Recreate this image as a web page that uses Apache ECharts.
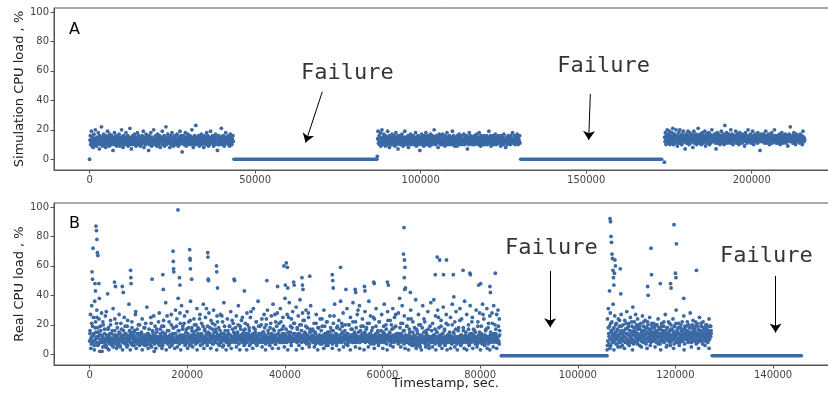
<!DOCTYPE html>
<html>
<head>
<meta charset="utf-8">
<script src="https://cdn.jsdelivr.net/npm/echarts@6/dist/echarts.min.js"></script>
<style>
  html, body { margin: 0; padding: 0; background: #fff; }
  #chart { width: 828px; height: 398px; }
</style>
</head>
<body>
<div id="chart"></div>
<script>
// ---- data ----
// panel A: simulation CPU load (%), evenly sampled over each running window
const simWindows = [[0, 43400], [86900, 130000], [173600, 216000]];
const simRun1 = [
  0, 13, 16, 10, 12, 19, 14, 9, 11, 15, 8, 13, 17, 12, 10, 14, 20, 11, 13, 9,
  15, 12, 10, 14, 18, 11, 13, 7, 16, 12, 14, 10, 13, 22, 11, 15, 9, 12, 14, 17,
  11, 13, 10, 15, 12, 8, 16, 14, 11, 13, 19, 10, 12, 15, 13, 9, 17, 11, 14, 12,
  10, 16, 13, 11, 14, 6, 12, 15, 10, 18, 13, 11, 14, 12, 16, 9, 13, 10, 15, 12,
  14, 11, 17, 13, 9, 12, 15, 10, 14, 20, 11, 13, 12, 8, 16, 14, 10, 13, 11, 15,
  12, 18, 10, 14, 13, 11, 16, 9, 12, 15, 13, 10, 21, 12, 14, 11, 7, 15, 13, 10,
  16, 12, 14, 11, 13, 17, 10, 12, 15, 9, 14, 13, 11, 18, 12, 10, 16, 13, 14, 11,
  13, 9, 15, 12, 10, 14, 16, 11, 13, 19, 12, 8, 14, 11, 15, 13, 10, 17, 12, 14,
  11, 15, 12, 13, 6, 16, 10, 14, 12, 11, 18, 13, 9, 15, 12, 14, 10, 13, 20, 11,
  14, 12, 10, 16, 13, 11, 15, 9, 12, 17, 14, 10, 13, 11, 16, 12, 8, 14, 13, 15,
  12, 10, 19, 13, 11, 14, 12, 16, 9, 13, 15, 11, 22, 12, 10, 14, 13, 17, 11, 12,
  15, 13, 11, 8, 14, 12, 16, 10, 13, 18, 11, 14, 12, 9, 15, 13, 10, 16, 12, 14,
  10, 14, 12, 17, 13, 11, 9, 15, 12, 14, 10, 19, 13, 11, 16, 12, 14, 5, 13, 11,
  13, 16, 10, 12, 14, 11, 18, 13, 9, 15, 12, 10, 14, 17, 11, 13, 12, 15, 10, 16,
  12, 11, 14, 13, 20, 10, 15, 12, 8, 14, 13, 11, 16, 12, 10, 23, 13, 14, 11, 15,
  14, 10, 13, 16, 12, 9, 15, 11, 14, 12, 17, 13, 10, 15, 12, 11, 14, 8, 16, 13,
  11, 15, 12, 10, 14, 18, 13, 11, 16, 12, 9, 14, 13, 10, 15, 12, 19, 11, 13, 14,
  13, 12, 16, 11, 9, 14, 12, 15, 13, 10, 17, 12, 14, 11, 13, 6, 15, 12, 10, 16,
  10, 14, 13, 12, 15, 11, 21, 13, 10, 14, 12, 16, 11, 13, 9, 15, 12, 14, 18, 11,
  15, 12, 11, 14, 13, 10, 16, 12, 14, 9, 13, 17, 11, 15, 12, 10, 14, 13, 16, 12
];
const simRun2 = [
  2, 14, 19, 11, 13, 16, 10, 15, 12, 18, 9, 14, 12, 20, 11, 13, 15, 10, 17, 12,
  13, 11, 16, 9, 14, 12, 15, 13, 10, 19, 12, 14, 11, 16, 8, 13, 15, 12, 10, 14,
  12, 17, 10, 13, 15, 11, 14, 12, 16, 9, 13, 11, 18, 12, 14, 10, 15, 13, 7, 16,
  14, 11, 13, 16, 12, 10, 15, 13, 11, 17, 12, 14, 9, 13, 15, 11, 12, 19, 10, 14,
  11, 15, 12, 14, 10, 13, 16, 8, 14, 12, 15, 11, 13, 17, 10, 14, 12, 16, 13, 11,
  16, 12, 10, 15, 13, 11, 14, 18, 12, 9, 15, 13, 11, 14, 16, 12, 10, 13, 15, 6,
  13, 14, 11, 12, 17, 10, 15, 13, 12, 14, 9, 16, 12, 11, 15, 13, 18, 10, 14, 12,
  10, 16, 13, 11, 14, 12, 15, 9, 13, 17, 11, 14, 12, 10, 16, 13, 11, 15, 12, 20,
  15, 12, 14, 10, 13, 16, 11, 12, 14, 13, 8, 15, 12, 17, 11, 13, 14, 10, 16, 12,
  12, 13, 10, 17, 14, 11, 13, 15, 12, 9, 16, 13, 11, 14, 12, 18, 10, 13, 15, 11,
  14, 10, 16, 12, 13, 11, 15, 14, 10, 12, 19, 13, 11, 16, 12, 14, 9, 15, 13, 12,
  11, 15, 13, 9, 16, 12, 14, 11, 13, 17, 10, 12, 15, 13, 11, 14, 16, 12, 10, 13,
  13, 12, 17, 11, 14, 10, 15, 12, 13, 16, 11, 14, 7, 12, 15, 13, 10, 18, 12, 14,
  16, 11, 13, 14, 12, 10, 15, 13, 11, 14, 12, 16, 10, 13, 15, 12, 14, 11, 17, 13,
  12, 14, 10, 15, 13, 18, 11, 12, 14, 9, 16, 13, 11, 15, 12, 14, 10, 13, 16, 12,
  10, 13, 15, 12, 11, 14, 16, 12, 10, 13, 15, 11, 19, 14, 12, 13, 11, 16, 9, 15,
  14, 12, 11, 16, 13, 10, 15, 12, 14, 11, 17, 13, 12, 10, 15, 14, 12, 13, 11, 16,
  13, 11, 15, 12, 14, 9, 16, 13, 11, 14, 12, 15, 10, 13, 17, 12, 14, 11, 13, 8,
  12, 15, 13, 10, 14, 12, 16, 11, 13, 15, 12, 14, 10, 16, 13, 11, 14, 12, 18, 13,
  11, 14, 12, 16, 13, 10, 15, 12, 14, 11, 13, 17, 12, 15, 10, 14, 13, 12, 16, 11
];
const simRun3 = [
  -2, 15, 12, 18, 14, 10, 16, 13, 20, 11, 15, 14, 17, 12, 13, 19, 10, 16, 14, 11,
  15, 13, 18, 12, 21, 14, 10, 16, 13, 15, 17, 11, 14, 20, 13, 12, 16, 9, 15, 14,
  13, 18, 11, 15, 20, 14, 12, 16, 13, 10, 17, 15, 11, 14, 19, 13, 12, 16, 14, 7,
  15, 13, 17, 11, 14, 16, 12, 19, 13, 15, 10, 14, 18, 13, 11, 16, 15, 12, 14, 17,
  13, 8, 15, 14, 19, 11, 16, 13, 12, 15, 17, 14, 10, 13, 16, 12, 21, 14, 15, 11,
  13, 17, 14, 12, 16, 10, 15, 13, 18, 14, 11, 16, 13, 15, 12, 19, 14, 9, 13, 17,
  15, 11, 14, 16, 13, 12, 18, 15, 10, 14, 17, 13, 11, 16, 14, 20, 12, 15, 13, 16,
  14, 13, 17, 12, 15, 11, 14, 7, 16, 13, 18, 11, 15, 14, 12, 17, 13, 16, 10, 15,
  14, 13, 19, 12, 16, 11, 15, 14, 17, 13, 10, 16, 23, 14, 12, 15, 13, 18, 11, 14,
  16, 13, 15, 12, 17, 14, 11, 16, 13, 20, 15, 12, 14, 17, 13, 10, 16, 15, 13, 14,
  12, 16, 14, 19, 13, 11, 15, 17, 14, 12, 16, 13, 10, 15, 18, 14, 12, 16, 13, 15,
  14, 11, 17, 13, 15, 12, 16, 14, 9, 15, 13, 18, 12, 16, 14, 11, 15, 13, 20, 14,
  13, 16, 12, 15, 14, 17, 11, 13, 16, 14, 12, 19, 15, 13, 10, 16, 14, 12, 17, 13,
  15, 12, 14, 16, 13, 11, 18, 14, 15, 12, 16, 13, 6, 15, 14, 17, 12, 13, 16, 14,
  12, 15, 17, 13, 14, 11, 16, 12, 19, 14, 13, 15, 11, 16, 14, 12, 17, 13, 15, 10,
  14, 16, 13, 12, 15, 18, 13, 11, 14, 16, 12, 15, 13, 20, 14, 12, 16, 13, 11, 15,
  13, 14, 11, 16, 12, 15, 13, 17, 14, 10, 16, 13, 15, 12, 18, 14, 11, 15, 13, 16,
  15, 12, 14, 13, 17, 11, 15, 14, 12, 16, 13, 9, 15, 14, 12, 17, 13, 16, 22, 14,
  13, 15, 12, 16, 14, 11, 15, 13, 18, 12, 16, 14, 13, 10, 15, 17, 12, 14, 16, 13,
  14, 12, 16, 13, 15, 11, 17, 14, 12, 15, 13, 16, 10, 14, 19, 13, 15, 12, 14, 13
];
const simFailures = [[43600, 86800], [130200, 172800]];

// panel B: real CPU load (%). Each running window is read as two interleaved
// sample sets (even / odd readings), evenly spaced in time
const realWindows = [[0, 84000], [106000, 127300]];
const realRun1Even = [
  9, 14, 27, 11, 7, 33, 12, 19, 8, 25, 13, 6, 36, 10, 22, 15, 8, 30, 12, 18,
  11, 7, 24, 13, 2, 9, 16, 10, 28, 8, 12, 5, 20, 11, 9, 14, 7, 26, 10, 6,
  13, 9, 4, 11, 18, 8, 12, 10, 7, 23, 9, 14, 11, 6, 10, 31, 8, 13, 9, 16,
  7, 12, 10, 21, 9, 6, 13, 11, 8, 27, 10, 14, 5, 9, 12, 17, 11, 8, 10, 13,
  9, 25, 11, 7, 14, 10, 8, 12, 19, 6, 11, 9, 34, 13, 10, 8, 15, 12, 7, 22,
  11, 8, 13, 10, 6, 16, 9, 12, 29, 8, 11, 14, 7, 10, 20, 9, 13, 6, 12, 10,
  8, 14, 11, 24, 9, 7, 12, 10, 13, 18, 8, 11, 6, 9, 32, 12, 10, 14, 7, 11,
  13, 9, 10, 6, 21, 11, 8, 12, 15, 9, 26, 10, 7, 13, 11, 4, 9, 17, 12, 8,
  10, 12, 7, 28, 11, 9, 14, 8, 10, 19, 12, 6, 11, 23, 9, 13, 10, 8, 35, 12,
  9, 11, 16, 7, 12, 10, 22, 8, 13, 9, 11, 27, 6, 10, 14, 12, 8, 18, 11, 9,
  14, 30, 10, 8, 24, 12, 9, 38, 11, 16, 7, 13, 21, 10, 9, 33, 12, 8, 19, 11,
  10, 13, 26, 9, 12, 7, 17, 11, 29, 8, 14, 10, 22, 12, 6, 11, 36, 9, 13, 18,
  8, 12, 10, 15, 24, 9, 11, 13, 7, 20, 10, 31, 12, 8, 14, 11, 17, 9, 27, 10,
  12, 9, 21, 13, 7, 11, 34, 10, 8, 16, 12, 25, 9, 14, 11, 6, 19, 10, 13, 28,
  9, 14, 11, 8, 23, 12, 10, 17, 7, 13, 30, 11, 9, 20, 12, 8, 15, 10, 26, 13,
  11, 7, 18, 10, 13, 9, 27, 12, 8, 14, 11, 22, 10, 6, 35, 12, 9, 16, 13, 10,
  8, 12, 24, 11, 9, 14, 7, 19, 10, 13, 29, 8, 12, 11, 17, 9, 21, 12, 10, 14,
  13, 10, 8, 26, 12, 9, 15, 11, 33, 7, 12, 10, 19, 13, 9, 23, 11, 8, 14, 10,
  9, 16, 12, 7, 21, 10, 13, 8, 28, 11, 9, 14, 12, 18, 6, 10, 25, 13, 9, 11,
  12, 8, 14, 31, 10, 11, 9, 17, 13, 7, 22, 10, 12, 8, 36, 11, 14, 9, 19, 10,
  10, 13, 9, 24, 12, 8, 11, 15, 27, 9, 13, 10, 7, 20, 12, 11, 30, 9, 14, 8,
  11, 9, 18, 12, 10, 26, 8, 13, 11, 34, 9, 12, 16, 10, 7, 22, 13, 11, 9, 28,
  9, 14, 10, 21, 12, 8, 31, 11, 13, 9, 17, 10, 25, 12, 8, 14, 11, 38, 10, 13,
  12, 8, 27, 10, 15, 11, 9, 35, 13, 10, 19, 8, 24, 12, 11, 29, 9, 14, 10, 21,
  10, 13, 9, 32, 11, 8, 17, 12, 26, 10, 14, 9, 37, 11, 12, 20, 8, 13, 28, 10,
  11, 9, 23, 12, 14, 8, 30, 10, 13, 18, 9, 11, 25, 12, 7, 15, 10, 33, 11, 9,
  13, 10, 16, 8, 12, 21, 9, 11, 14, 7, 27, 10, 12, 9, 18, 11, 8, 13, 10, 24,
  9, 12, 11, 7, 19, 10, 13, 8, 30, 11, 9, 14, 12, 6, 22, 10, 11, 15, 9, 13,
  10, 8, 26, 12, 9, 11, 16, 13, 7, 10, 21, 9, 12, 34, 11, 8, 14, 10, 18, 12,
  8, 13, 10, 23, 11, 9, 12, 36, 10, 14, 8, 19, 11, 28, 9, 12, 10, 16, 13, 7,
  12, 10, 31, 9, 14, 11, 8, 20, 12, 10, 25, 9, 13, 11, 17, 8, 35, 12, 10, 14,
  9, 11, 22, 13, 8, 12, 27, 10, 9, 15, 11, 33, 8, 12, 10, 19, 13, 9, 24, 11,
  10, 14, 9, 12, 29, 8, 11, 17, 13, 10, 21, 9, 12, 36, 11, 8, 14, 26, 10, 12,
  13, 9, 18, 10, 12, 7, 24, 11, 9, 14, 31, 10, 8, 12, 16, 11, 9, 22, 13, 10,
  8, 12, 10, 27, 9, 13, 11, 15, 8, 34, 10, 12, 9, 20, 11, 7, 13, 29, 10, 12,
  11, 9, 14, 23, 10, 8, 12, 17, 9, 31, 11, 13, 8, 25, 10, 12, 19, 9, 14, 11,
  9, 13, 28, 10, 12, 38, 8, 11, 21, 14, 9, 33, 12, 10, 16, 7, 26, 11, 13, 9,
  12, 8, 19, 11, 9, 24, 10, 13, 7, 15, 11, 30, 9, 12, 10, 8, 22, 11, 6, 13,
  10, 7, 12, 9, 17, 11, 6, 14, 8, 27, 10, 9, 12, 5, 20, 11, 8, 13, 10, 33,
  8, 11, 24, 9, 12, 7, 10, 16, 8, 13, 9, 29, 11, 6, 12, 10, 19, 8, 35, 11,
  9, 12, 21, 10, 8, 37, 11, 13, 7, 26, 10, 9, 15, 12, 30, 8, 11, 18, 9, 13,
  10, 7, 23, 12, 9, 14, 8, 32, 11, 10, 17, 6, 12, 9, 27, 11, 8, 13, 20, 10,
  11, 9, 13, 8, 25, 10, 12, 7, 34, 9, 11, 15, 10, 8, 22, 12, 9, 29, 11, 7,
  9, 12, 10, 18, 8, 11, 31, 9, 13, 7, 24, 10, 12, 8, 16, 11, 9, 36, 10, 13,
  8, 11, 27, 9, 12, 10, 20, 7, 13, 9, 33, 11, 8, 14, 10, 25, 12, 9, 17, 11,
  10, 8, 15, 12, 30, 9, 11, 7, 22, 10, 13, 8, 28, 11, 9, 12, 19, 10, 7, 34,
  12, 9, 24, 10, 8, 13, 11, 17, 9, 31, 10, 12, 7, 21, 11, 9, 26, 13, 8, 10,
  11, 28, 9, 13, 10, 33, 8, 12, 20, 9, 14, 11, 27, 10, 8, 30, 12, 9, 24, 13
];
const realRun1Odd = [
  16, 4, 21, 9, 14, 3, 18, 11, 25, 6, 15, 8, 19, 13, 2, 22, 10, 17, 5, 29,
  12, 17, 3, 14, 20, 7, 16, 5, 11, 24, 13, 4, 18, 9, 15, 6, 21, 12, 3, 16,
  8, 19, 14, 5, 23, 10, 16, 3, 13, 18, 6, 15, 11, 27, 4, 17, 9, 14, 20, 7,
  15, 3, 12, 18, 6, 21, 9, 14, 4, 17, 11, 25, 5, 16, 13, 2, 19, 8, 15, 10,
  22, 6, 17, 12, 4, 15, 19, 8, 14, 3, 26, 11, 16, 5, 13, 20, 7, 18, 10, 4,
  14, 19, 5, 16, 11, 28, 3, 13, 17, 8, 21, 6, 15, 12, 4, 18, 10, 23, 7, 16,
  5, 13, 20, 9, 16, 3, 18, 12, 24, 6, 14, 10, 19, 4, 17, 11, 31, 8, 15, 13,
  18, 4, 12, 21, 7, 15, 10, 17, 3, 22, 13, 6, 16, 9, 26, 5, 14, 19, 11, 3,
  13, 16, 6, 19, 10, 4, 23, 12, 15, 8, 18, 5, 14, 20, 11, 3, 17, 9, 25, 12,
  6, 17, 14, 3, 20, 11, 16, 7, 29, 13, 4, 18, 10, 15, 22, 6, 12, 19, 8, 14,
  20, 5, 15, 12, 18, 3, 24, 9, 16, 11, 6, 21, 14, 4, 17, 13, 27, 7, 19, 10,
  4, 16, 11, 22, 8, 14, 19, 5, 13, 17, 10, 3, 25, 12, 15, 6, 18, 9, 21, 14,
  11, 3, 18, 14, 6, 20, 12, 16, 4, 23, 9, 15, 19, 7, 13, 28, 5, 17, 10, 16,
  17, 12, 5, 15, 21, 9, 3, 18, 13, 7, 16, 24, 11, 4, 19, 14, 8, 22, 6, 15,
  9, 18, 13, 4, 16, 26, 10, 14, 6, 19, 12, 3, 17, 8, 21, 15, 5, 13, 20, 11,
  14, 6, 20, 11, 3, 17, 13, 22, 8, 15, 5, 18, 10, 30, 12, 4, 16, 9, 14, 19,
  3, 15, 10, 18, 12, 5, 21, 14, 7, 16, 11, 25, 4, 13, 19, 9, 15, 6, 22, 12,
  16, 10, 4, 19, 14, 8, 17, 3, 23, 12, 15, 6, 20, 11, 5, 18, 13, 27, 9, 14,
  7, 14, 18, 5, 12, 21, 9, 16, 4, 13, 19, 11, 3, 17, 10, 24, 6, 15, 12, 18,
  12, 4, 16, 10, 20, 6, 13, 3, 18, 9, 15, 22, 5, 14, 11, 17, 4, 12, 8, 16,
  5, 13, 9, 17, 3, 15, 11, 25, 6, 12, 19, 4, 14, 10, 16, 7, 21, 3, 13, 9,
  15, 4, 12, 20, 8, 14, 5, 17, 11, 3, 16, 9, 23, 6, 13, 10, 18, 4, 12, 15,
  3, 11, 17, 6, 14, 9, 22, 4, 13, 16, 7, 12, 5, 19, 10, 15, 3, 14, 8, 27,
  13, 6, 16, 10, 4, 18, 12, 3, 15, 9, 21, 5, 14, 11, 17, 4, 12, 19, 7, 16
];
const realRun2Even = [
  3, 24, 9, 31, 14, 7, 19, 11, 28, 6, 16, 10, 22, 13, 8, 34, 12, 18, 9, 26,
  11, 15, 7, 21, 13, 10, 17, 5, 24, 12, 9, 19, 14, 8, 11, 27, 16, 10, 6, 13,
  20, 9, 15, 12, 23, 8, 17, 11, 14, 29, 10, 18, 7, 13, 21, 9, 16, 12, 25, 11,
  8, 14, 19, 10, 32, 13, 7, 16, 22, 9, 12, 27, 15, 11, 18, 8, 24, 14, 10, 20,
  12, 6, 17, 13, 21, 9, 15, 11, 26, 14, 8, 19, 12, 16, 10, 23, 13, 7, 18, 15,
  11, 22, 9, 14, 17, 12, 25, 10, 16, 8, 20, 13, 11, 18, 15, 9, 21, 12, 14, 19,
  10, 16, 13, 8, 20, 11, 15, 24, 12, 18, 9, 14, 7, 17, 12, 10, 21, 13, 9, 16,
  12, 19, 8, 14, 11, 27, 10, 15, 13, 6, 18, 12, 9, 22, 14, 11, 16, 8, 13, 20,
  9, 13, 17, 11, 24, 10, 14, 7, 19, 12, 15, 9, 30, 13, 11, 17, 8, 14, 21, 10,
  14, 8, 18, 12, 10, 16, 13, 22, 9, 15, 11, 26, 12, 7, 17, 14, 10, 19, 13, 11,
  16, 10, 13, 20, 9, 14, 12, 28, 11, 15, 8, 18, 13, 10, 23, 12, 16, 9, 14, 19,
  11, 15, 9, 13, 21, 12, 8, 17, 14, 10, 25, 13, 11, 16, 9, 19, 12, 14, 7, 22,
  13, 10, 17, 12, 15, 9, 20, 14, 11, 18, 12, 8, 16, 13, 24, 10, 15, 12, 19, 14
];
const realRun2Odd = [
  6, 18, 12, 4, 21, 15, 9, 17, 3, 14, 20, 11, 7, 16, 13, 23, 5, 19, 10, 15,
  12, 4, 17, 21, 8, 14, 19, 6, 16, 11, 22, 3, 15, 18, 9, 13, 20, 7, 17, 12,
  19, 10, 5, 16, 13, 22, 8, 18, 14, 4, 20, 11, 17, 6, 15, 21, 9, 13, 18, 5,
  14, 20, 11, 7, 17, 13, 3, 19, 15, 9, 22, 12, 16, 5, 18, 10, 14, 21, 6, 17,
  11, 16, 4, 19, 13, 21, 8, 15, 18, 6, 12, 20, 9, 17, 14, 3, 19, 11, 16, 22,
  8, 15, 18, 12, 5, 20, 14, 10, 17, 22, 7, 13, 19, 4, 16, 11, 21, 9, 15, 18,
  13, 6, 17, 20, 10, 15, 4, 19, 12, 16
];
// isolated high readings [timestamp, %]
const realPeaks = [
  [500, 56], [600, 51], [700, 72], [1100, 48], [1200, 43], [1300, 87], [1400, 84], [1500, 78],
  [1600, 69], [1700, 67], [1900, 48], [2000, 38], [3700, 41], [5100, 49], [5300, 46], [6700, 46],
  [6900, 42], [8400, 57], [8450, 52], [8500, 48], [12800, 51], [15000, 54], [15100, 44], [17100, 70],
  [17150, 63], [17200, 58], [17250, 56], [18100, 98], [18400, 52], [18500, 47], [20500, 71], [20550, 65],
  [20600, 64], [20650, 58], [20900, 51], [24200, 69], [24250, 66], [24300, 51], [24350, 50], [26000, 60],
  [26050, 56], [26200, 45], [29600, 51], [29700, 50], [31700, 43], [36300, 50], [38500, 46], [39800, 60],
  [40100, 47], [40300, 62], [40500, 59], [40600, 45], [41800, 49], [41900, 47], [43500, 52], [43600, 47],
  [43700, 44], [45100, 53], [49700, 54], [49800, 50], [49900, 45], [51400, 59], [52500, 44], [54400, 44],
  [54500, 42], [56300, 46], [56400, 43], [58200, 49], [58300, 48], [61000, 49], [61200, 47], [64300, 68],
  [64400, 86], [64450, 52], [64500, 64], [64550, 44], [64600, 59], [64700, 45], [65700, 42], [66800, 37],
  [70800, 54], [71200, 66], [71700, 64], [72500, 54], [73100, 64], [74500, 54], [74600, 39], [76500, 57],
  [77900, 55], [78000, 54], [79700, 47], [80100, 48], [82000, 46], [82100, 42], [83100, 55],
  [106500, 43], [106600, 92], [106700, 90], [106800, 80], [106900, 76], [107000, 68], [107100, 65],
  [107200, 57], [107300, 52], [107400, 47], [107500, 55], [107600, 64], [107700, 60], [108700, 58],
  [108800, 41], [114300, 46], [114400, 40], [115000, 72], [115100, 54], [116900, 48], [119000, 48],
  [119100, 45], [119700, 88], [120000, 55], [120100, 52], [120200, 75], [121700, 38], [124300, 57]
];
const realFailures = [[84300, 106000], [127500, 145800]];
const realFailLevel = -1;

const xTicksA = [0, 50000, 100000, 150000, 200000];
const xTicksB = [0, 20000, 40000, 60000, 80000, 100000, 120000, 140000];
const yTicks = [0, 20, 40, 60, 80, 100];

// annotation anchors in data units: label centre, arrow tail, arrow head
const notesA = [
  { label: [77860, 58.6], from: [70300, 45.9], to: [65240, 11.3] },
  { label: [155240, 62.9], from: [151240, 44.3], to: [150750, 13.1] }
];
const notesB = [
  { label: [94600, 72.2], from: [94340, 56.6], to: [94340, 18.3] },
  { label: [138620, 66.7], from: [140510, 53.2], to: [140510, 14.7] }
];

const BLUE = '#3a69a4';
const FONT = 'DejaVu Sans';

// evenly spaced samples over a window; half=true shifts them half a step
function spread(win, vals, half) {
  const step = (win[1] - win[0]) / (vals.length - 1);
  const off = half ? step / 2 : 0;
  return vals.map((v, i) => [Math.min(win[0] + off + i * step, win[1]), v]);
}

const simPoints = [].concat(
  spread(simWindows[0], simRun1),
  spread(simWindows[1], simRun2),
  spread(simWindows[2], simRun3)
);
const realPoints = [].concat(
  spread(realWindows[0], realRun1Even),
  spread(realWindows[0], realRun1Odd, true),
  spread(realWindows[1], realRun2Even),
  spread(realWindows[1], realRun2Odd, true),
  realPeaks
);

const myChart = echarts.init(document.getElementById('chart'), null, { renderer: 'canvas' });

function xAxisOf(idx, min, max, ticks, name) {
  return {
    type: 'value', gridIndex: idx, min: min, max: max,
    splitLine: { show: false },
    axisLine: { show: true, onZero: false, lineStyle: { color: '#555', width: 1 } },
    axisTick: { show: true, length: 3.5, customValues: ticks, lineStyle: { color: '#555' } },
    axisLabel: { customValues: ticks, color: '#444', fontSize: 10, fontFamily: FONT, margin: 5,
      formatter: v => String(v) },
    name: name || '', nameLocation: 'middle', nameGap: 12, nameMoveOverlap: false,
    nameTextStyle: { fontFamily: FONT, fontSize: 13, color: '#222' }
  };
}
function yAxisOf(idx, name) {
  return {
    type: 'value', gridIndex: idx, min: -7.3, max: 102.7,
    splitLine: { show: false },
    axisLine: { show: true, onZero: false, lineStyle: { color: '#555', width: 1 } },
    axisTick: { show: true, length: 3.5, customValues: yTicks, lineStyle: { color: '#555' } },
    axisLabel: { customValues: yTicks, color: '#444', fontSize: 10, fontFamily: FONT, margin: 5 },
    name: name, nameLocation: 'middle', nameRotate: 90, nameGap: 28, nameMoveOverlap: false,
    nameTextStyle: { fontFamily: FONT, fontSize: 13, color: '#222' }
  };
}

function failLines(idx, wins, level) {
  return wins.map(w => ({
    type: 'line', xAxisIndex: idx, yAxisIndex: idx,
    data: [[w[0], level], [w[1], level]],
    showSymbol: false, symbol: 'none', silent: true,
    lineStyle: { color: BLUE, width: 3.6, cap: 'round' }
  }));
}

function noteSeries(idx, notes) {
  return {
    type: 'scatter', xAxisIndex: idx, yAxisIndex: idx, silent: true,
    symbolSize: 1, itemStyle: { color: 'rgba(0,0,0,0)' },
    data: notes.map(n => n.label),
    label: {
      show: true, position: 'inside', formatter: 'Failure',
      fontFamily: 'DejaVu Sans Mono', fontSize: 22, color: '#000'
    },
    markLine: {
      silent: true, symbol: ['none', 'arrow'], symbolSize: 9, animation: false,
      label: { show: false },
      lineStyle: { color: '#000', width: 1, type: 'solid' },
      data: notes.map(n => [{ coord: n.from }, { coord: n.to }])
    }
  };
}

let option = {
  animation: false,
  backgroundColor: '#fff',
  grid: [
    { left: 54, top: 8, width: 783, height: 162, outerBoundsMode: 'none', containLabel: false,
      show: true, borderColor: '#555', borderWidth: 1 },
    { left: 54, top: 203, width: 783, height: 162, outerBoundsMode: 'none', containLabel: false,
      show: true, borderColor: '#555', borderWidth: 1 }
  ],
  xAxis: [
    xAxisOf(0, -10750, 225750, xTicksA),
    xAxisOf(1, -7290, 153090, xTicksB, 'Timestamp, sec.')
  ],
  yAxis: [
    yAxisOf(0, 'Simulation CPU load , %'),
    yAxisOf(1, 'Real CPU load , %')
  ],
  graphic: [
    { type: 'text', left: 69, top: 22, style: { text: 'A', fontFamily: FONT, fontSize: 16, fill: '#000' } },
    { type: 'text', left: 69, top: 216, style: { text: 'B', fontFamily: FONT, fontSize: 16, fill: '#000' } }
  ],
  series: [
    {
      type: 'scatter', xAxisIndex: 0, yAxisIndex: 0, data: simPoints, large: false,
      symbolSize: 3.8, itemStyle: { color: BLUE, opacity: 1 }, silent: true
    },
    ...failLines(0, simFailures, 0),
    {
      type: 'scatter', xAxisIndex: 1, yAxisIndex: 1, data: realPoints, large: false,
      symbolSize: 3.8, itemStyle: { color: BLUE, opacity: 1 }, silent: true
    },
    ...failLines(1, realFailures, realFailLevel),
    noteSeries(0, notesA),
    noteSeries(1, notesB)
  ]
};

myChart.setOption(option);
</script>
</body>
</html>
